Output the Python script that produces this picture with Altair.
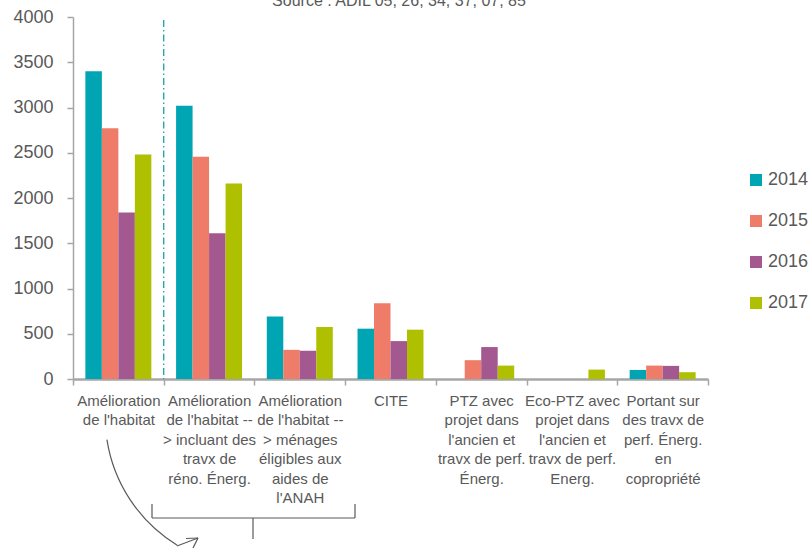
import altair as alt
import pandas as pd

categories = [
    "Amélioration|de l'habitat",
    "Amélioration|de l'habitat --|> incluant des|travx de|réno. Énerg.",
    "Amélioration|de l'habitat --|> ménages|éligibles aux|aides de|l'ANAH",
    "CITE",
    "PTZ avec|projet dans|l'ancien et|travx de perf.|Énerg.",
    "Eco-PTZ avec|projet dans|l'ancien et|travx de perf.|Energ.",
    "Portant sur|des travx de|perf. Énerg.|en|copropriété",
]
years = ["2014", "2015", "2016", "2017"]
v2014 = [3400, 3020, 690, 556, 0, 0, 100]
v2015 = [2770, 2455, 322, 838, 208, 0, 148]
v2016 = [1840, 1610, 311, 419, 353, 0, 145]
v2017 = [2480, 2160, 575, 545, 148, 104, 75]
colors = ["#00A5B3", "#EF7C69", "#A35990", "#AEC000"]
y_ticks = [0, 500, 1000, 1500, 2000, 2500, 3000, 3500, 4000]
title_text = "Source : ADIL 05, 26, 34, 37, 07, 85"

rows = []
for yr, vals in zip(years, [v2014, v2015, v2016, v2017]):
    for c, v in zip(categories, vals):
        rows.append({"cat": c, "year": yr, "value": v})
df = pd.DataFrame(rows)

W, H = 635, 362
FONT = "Liberation Sans"
GRAY = "#595959"
AX = "#A6A6A6"
dummy = alt.Data(values=[{"a": 1}])

x_axis = alt.Axis(
    title=None,
    labelExpr="isValid(datum.value) ? split(datum.value, '|') : ''",
    labelAngle=0,
    labelFontSize=15, labelLineHeight=19.5, labelColor=GRAY, labelFont=FONT,
    labelPadding=8, labelLimit=0, labelOverlap=False, tickBand="extent",
    tickSize=6, tickColor=AX, tickWidth=1.5, domainColor=AX, domainWidth=2.5,
    grid=False,
)
x_scale = alt.Scale(paddingInner=0, paddingOuter=0)

bars = alt.Chart(df).mark_bar().encode(
    x=alt.X("cat:N", sort=categories, scale=x_scale, axis=x_axis),
    xOffset=alt.XOffset("year:N", sort=years,
                        scale=alt.Scale(paddingOuter=0.75, paddingInner=0)),
    y=alt.Y("value:Q", scale=alt.Scale(domain=[0, 4000], nice=False),
            axis=alt.Axis(values=y_ticks, title=None, grid=False, format="d",
                          labelFontSize=18, labelColor=GRAY, labelFont=FONT,
                          labelPadding=14, tickSize=6, tickColor=AX,
                          tickWidth=1.5, domainColor=AX, domainWidth=1.5)),
    color=alt.Color("year:N", scale=alt.Scale(domain=years, range=colors),
                    legend=alt.Legend(title=None, orient="none", legendX=674,
                                      legendY=154, symbolType="square",
                                      symbolSize=144, symbolStrokeWidth=0,
                                      labelFontSize=18, labelColor=GRAY,
                                      labelFont=FONT, rowPadding=23,
                                      labelOffset=3, padding=0)),
)

sep = alt.Chart(alt.Data(values=[{"cat": categories[1]}])).mark_rule(
    color="#1AA0AE", strokeWidth=1.3, strokeDash=[7, 3, 1.5, 3]
).encode(
    x=alt.X("cat:N", sort=categories, scale=x_scale, bandPosition=0, axis=x_axis),
    y=alt.value(3), y2=alt.value(H),
)

title = alt.Chart(dummy).mark_text(
    text=title_text, font=FONT, fontSize=16, color=GRAY, align="center",
    baseline="alphabetic"
).encode(x=alt.value(326), y=alt.value(-11))

def seg(x1, y1, x2, y2, w=1.2):
    return alt.Chart(dummy).mark_rule(color=GRAY, strokeWidth=w).encode(
        x=alt.value(x1), y=alt.value(y1), x2=alt.value(x2), y2=alt.value(y2))

brace = [
    seg(79, 501, 282, 501),
    seg(79, 487, 79, 501),
    seg(282, 487, 282, 501),
    seg(180, 501, 180, 522),
]

arc = alt.Chart(dummy).mark_arc(
    theta=3.69, theta2=4.56, radius=151, radius2=149.8, color=GRAY
).encode(x=alt.value(182.6), y=alt.value(399.8))

arrow = [
    seg(104, 529, 125, 521),
    seg(125, 521, 113, 521.5),
    seg(125, 521, 120, 531),
]

chart = alt.layer(bars, sep, title, *brace, arc, *arrow).properties(
    width=W, height=H,
    autosize=alt.AutoSizeParams(type="none"),
    padding={"left": 73, "top": 17, "right": 102, "bottom": 174},
).configure_view(stroke=None)

chart.save("out.html", embed_options={"renderer": "svg", "actions": False})
